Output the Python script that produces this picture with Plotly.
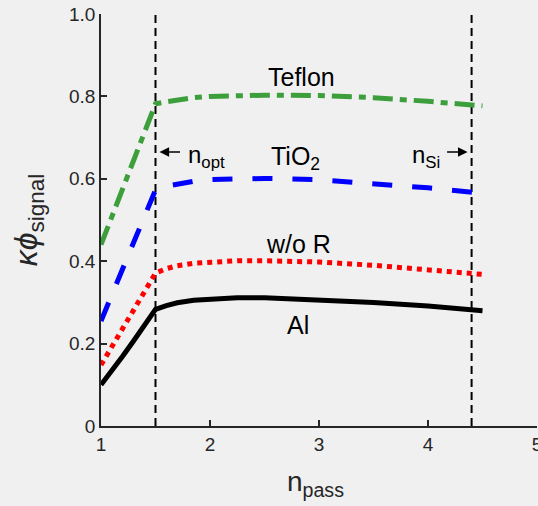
import plotly.graph_objects as go

# Number of passes
n_pass = [1.0, 1.1, 1.2, 1.3, 1.4, 1.5, 1.6, 1.7, 1.85, 2.0, 2.25, 2.5, 3.0, 3.5, 4.0, 4.5]

# Signal efficiency for each reflector
teflon = [0.440, 0.508, 0.576, 0.645, 0.713, 0.782, 0.787, 0.792, 0.797, 0.800,
          0.802, 0.803, 0.802, 0.797, 0.788, 0.777]
tio2 = [0.255, 0.319, 0.382, 0.446, 0.509, 0.573, 0.582, 0.588, 0.594, 0.598,
        0.601, 0.601, 0.598, 0.589, 0.578, 0.565]
no_refl = [0.148, 0.193, 0.237, 0.282, 0.326, 0.371, 0.382, 0.389, 0.395, 0.398,
           0.401, 0.401, 0.398, 0.390, 0.380, 0.368]
alum = [0.100, 0.133, 0.170, 0.207, 0.245, 0.283, 0.292, 0.299, 0.305, 0.308,
        0.311, 0.311, 0.307, 0.300, 0.291, 0.280]

# Reference pass numbers
n_opt = 1.5
n_si = 4.4

x_ticks = [1, 2, 3, 4, 5]
y_ticks = [0, 0.2, 0.4, 0.6, 0.8, 1.0]
y_ticktext = ["0", "0.2", "0.4", "0.6", "0.8", "1.0"]

FONT = "Arial, Liberation Sans, Helvetica, sans-serif"
BG = "#f0f0f0"
AXC = "#262626"

fig = go.Figure()

# vertical reference lines
for xv in (n_opt, n_si):
    fig.add_trace(go.Scatter(x=[xv, xv], y=[0, 1], mode="lines",
                             line=dict(color="black", width=2, dash="8px,5px"),
                             hoverinfo="skip", showlegend=False))

series = [
    (teflon, "#3c9f3c", "20px,7px,7px,7px"),
    (tio2, "#0000ff", "20px,20px"),
    (no_refl, "#ff0000", "5px,5px"),
    (alum, "#000000", "solid"),
]
for ys, col, dash in series:
    fig.add_trace(go.Scatter(x=n_pass, y=ys, mode="lines",
                             line=dict(color=col, width=5, dash=dash),
                             showlegend=False))

ann_font = dict(family=FONT, size=25, color="black")
annotations = [
    dict(x=2.84, y=0.847, text="Teflon"),
    dict(x=2.78, y=0.650, text="TiO<sub>2</sub>"),
    dict(x=2.81, y=0.442, text="w/o R"),
    dict(x=2.81, y=0.245, text="Al"),
]
for a in annotations:
    fig.add_annotation(x=a["x"], y=a["y"], text=a["text"], showarrow=False,
                       xref="x", yref="y", font=ann_font,
                       xanchor="center", yanchor="middle")

# n_opt marker
fig.add_annotation(x=n_opt, y=0.665, xref="x", yref="y", ax=26, ay=0,
                   text="", showarrow=True, arrowhead=2, arrowsize=1.2,
                   arrowwidth=1.6, arrowcolor="black", standoff=4)
fig.add_annotation(x=1.78, y=0.655, xref="x", yref="y", text="n<sub>opt</sub>",
                   showarrow=False, font=dict(family=FONT, size=24, color="black"),
                   xanchor="left", yanchor="middle")

# n_Si marker
fig.add_annotation(x=n_si, y=0.665, xref="x", yref="y", ax=-26, ay=0,
                   text="", showarrow=True, arrowhead=2, arrowsize=1.2,
                   arrowwidth=1.6, arrowcolor="black", standoff=4)
fig.add_annotation(x=4.13, y=0.655, xref="x", yref="y", text="n<sub>Si</sub>",
                   showarrow=False, font=dict(family=FONT, size=24, color="black"),
                   xanchor="right", yanchor="middle")

# axis titles
fig.add_annotation(x=0.493, y=-0.14, xref="paper", yref="paper",
                   text="n<sub>pass</sub>", showarrow=False,
                   font=dict(family=FONT, size=28, color=AXC),
                   xanchor="center", yanchor="middle")
fig.add_annotation(x=-0.167, y=0.5, xref="paper", yref="paper",
                   text="<i>κϕ</i><sub>signal</sub>", showarrow=False,
                   textangle=-90,
                   font=dict(family=FONT, size=32, color=AXC),
                   xanchor="center", yanchor="middle")

axis_common = dict(showgrid=False, zeroline=False, showline=True,
                   linecolor=AXC, linewidth=1.5, ticks="inside", ticklen=6,
                   tickwidth=1.5, tickcolor=AXC, mirror=False, automargin=False,
                   tickfont=dict(family=FONT, size=19, color=AXC))

fig.update_xaxes(range=[1, 5], tickvals=x_ticks, ticklabeloverflow="allow",
                 **axis_common)
fig.update_yaxes(range=[0, 1], tickvals=y_ticks, ticktext=y_ticktext,
                 **axis_common)

fig.update_layout(width=538, height=506,
                  margin=dict(l=101, r=1, t=14, b=80, autoexpand=False),
                  paper_bgcolor=BG, plot_bgcolor=BG,
                  font=dict(family=FONT))

fig.write_html("out.html")
